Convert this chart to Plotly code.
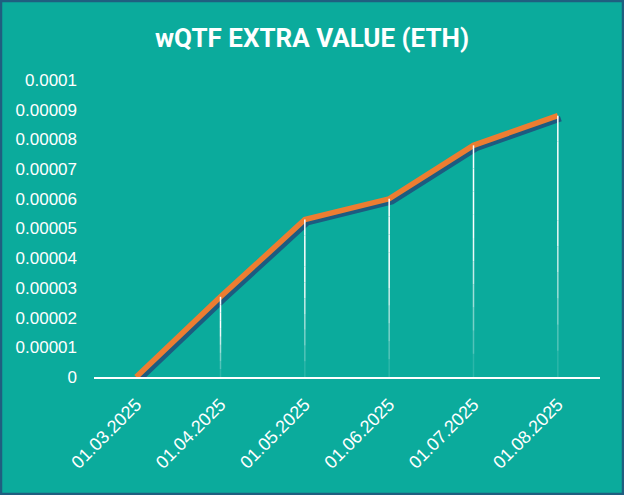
import plotly.graph_objects as go

# values
dates = ["01.03.2025", "01.04.2025", "01.05.2025", "01.06.2025", "01.07.2025", "01.08.2025"]
extra_value = [0.0, 0.000027, 0.000053, 0.00006, 0.000078, 0.000088]

y_ticks = [0, 0.00001, 0.00002, 0.00003, 0.00004, 0.00005, 0.00006, 0.00007, 0.00008, 0.00009, 0.0001]
y_tick_labels = ["0", "0.00001", "0.00002", "0.00003", "0.00004", "0.00005",
                 "0.00006", "0.00007", "0.00008", "0.00009", "0.0001"]

BG = "#0bab9c"
ORANGE = "#ed7d31"
SHADOW = "#1d5b80"
BORDER = "#1f5f80"

W, H = 624, 495
ml, mr, mt, mb = 94, 24, 80, 118
plot_w = W - ml - mr
plot_h = H - mt - mb

x_range = [-0.5, len(dates) - 0.5]
y_range = [0, 0.0001]

# shadow offset in pixels -> axis units
dx = 3 * (x_range[1] - x_range[0]) / plot_w
dy = 3 * (y_range[1] - y_range[0]) / plot_h

fig = go.Figure()

# shadow (on shifted hidden axes, drawn underneath)
fig.add_trace(go.Scatter(
    x=dates, y=extra_value, mode="lines",
    line=dict(color=SHADOW, width=5.5),
    xaxis="x", yaxis="y", hoverinfo="skip", showlegend=False,
))

# main line
fig.add_trace(go.Scatter(
    x=dates, y=extra_value, mode="lines",
    line=dict(color=ORANGE, width=5.5),
    xaxis="x2", yaxis="y2", showlegend=False,
))

# drop lines, fading toward the axis
bands = 10
for k in range(bands):
    f0, f1 = k / bands, (k + 1) / bands
    xs, ys = [], []
    for d, v in zip(dates, extra_value):
        if v <= 0:
            continue
        xs += [d, d, None]
        ys += [v * f0, v * f1, None]
    fig.add_trace(go.Scatter(
        x=xs, y=ys, mode="lines",
        line=dict(color="white", width=1.5),
        opacity=min(1.0, 0.05 + 1.6 * (k + 0.5) / bands),
        xaxis="x2", yaxis="y2", hoverinfo="skip", showlegend=False,
    ))

y_font = dict(family="Liberation Sans, Arial, sans-serif", size=17, color="white")
x_font = dict(family="Liberation Sans, Arial, sans-serif", size=18, color="white")

fig.update_layout(
    width=W, height=H,
    margin=dict(l=ml, r=mr, t=mt, b=mb),
    paper_bgcolor=BG, plot_bgcolor=BG,
    title=dict(
        text="<b>wQTF EXTRA VALUE (ETH)</b>",
        font=dict(family="Roboto, sans-serif", size=26, color="white"),
        x=0.5, xanchor="center", xref="container",
        y=1 - 38 / H, yanchor="middle",
    ),
    xaxis=dict(
        type="category", categoryorder="array", categoryarray=dates,
        range=[x_range[0] - dx, x_range[1] - dx],
        visible=False,
    ),
    yaxis=dict(
        range=[y_range[0] + dy, y_range[1] + dy],
        visible=False,
    ),
    xaxis2=dict(
        type="category", categoryorder="array", categoryarray=dates,
        range=x_range, overlaying="x", anchor="y2",
        showline=True, linecolor="white", linewidth=2,
        showgrid=False, zeroline=False, ticks="",
        tickangle=-45, tickfont=x_font, ticklabelstandoff=8,
    ),
    yaxis2=dict(
        range=y_range, overlaying="y", anchor="x2",
        showline=False, showgrid=False, zeroline=False, ticks="",
        tickvals=y_ticks, ticktext=y_tick_labels,
        tickfont=y_font, ticklabelstandoff=16,
    ),
    shapes=[dict(
        type="rect", xref="paper", yref="paper",
        x0=-(ml - 1) / plot_w, x1=1 + (mr - 1) / plot_w,
        y0=-(mb - 1) / plot_h, y1=1 + (mt - 1) / plot_h,
        line=dict(color=BORDER, width=2.5), layer="below",
    )],
)

fig.write_html(
    "out.html",
    config={"displayModeBar": False},
    post_script="document.body.style.margin='0';document.body.style.overflow='hidden';",
)
